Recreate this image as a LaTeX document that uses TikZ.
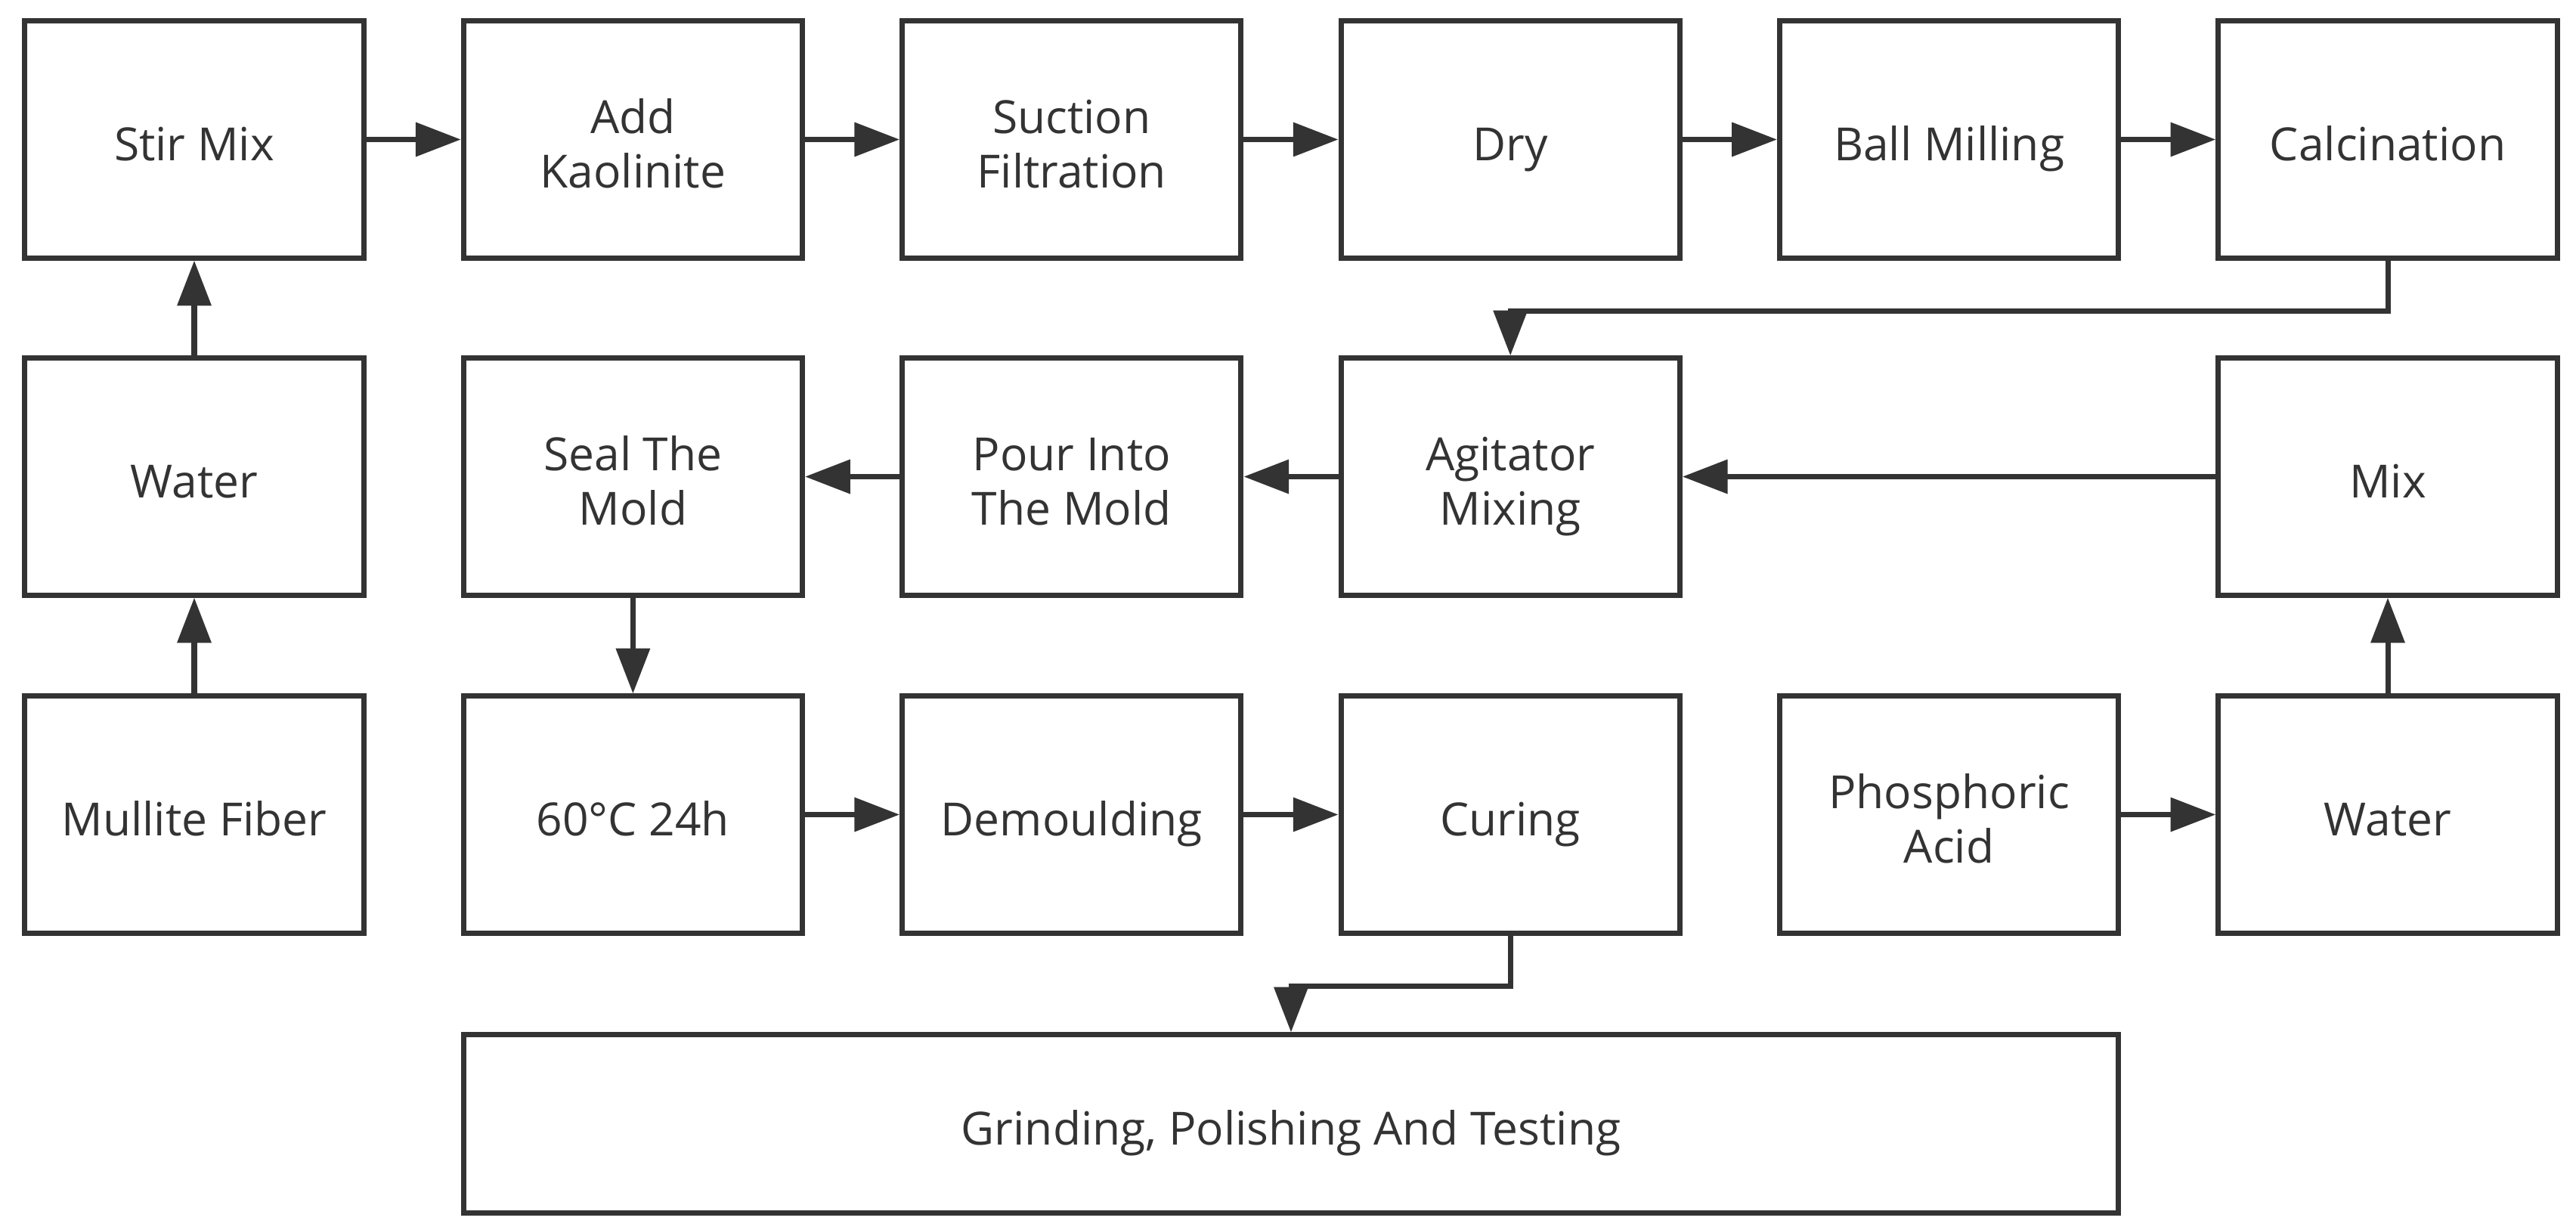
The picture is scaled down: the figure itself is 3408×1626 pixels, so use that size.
\documentclass[tikz,border=0pt]{standalone}
\usepackage{fontspec}
\usepackage{array}
\setmainfont{Open Sans}
\usetikzlibrary{arrows.meta}
\definecolor{ink}{HTML}{333333}
\newsavebox\cellbox
\newcommand\lstrut{\rule[-2.4pt]{0pt}{20.5pt}}
\newcommand\lbl[1]{{\renewcommand\arraystretch{0}\begin{tabular}{@{}>{\lstrut\begin{lrbox}{\cellbox}}c<{\end{lrbox}\smash{\usebox\cellbox}}@{}}#1\end{tabular}}}
\begin{document}
\begin{tikzpicture}[x=0.01cm,y=-0.01cm,
  box/.style={draw=ink,line width=2pt,minimum width=4.48cm,minimum height=3.13cm,
    inner sep=0pt,text=ink,
    font=\fontsize{17.2}{20.5}\selectfont},
  arr/.style={draw=ink,line width=2pt,-{Triangle[length=17pt,width=12.5pt]}}]
\useasboundingbox[fill=white] (0,0) rectangle (3408,1626);
% row 1
\node[box] (stir) at (257,184.5) {\lbl{Stir Mix}};
\node[box] (kaol) at (837.4,184.5) {\lbl{Add\\Kaolinite}};
\node[box] (suct) at (1417.8,184.5) {\lbl{Suction\\Filtration}};
\node[box] (dry)  at (1998.2,184.5) {\lbl{Dry}};
\node[box] (ball) at (2578.6,184.5) {\lbl{Ball Milling}};
\node[box] (calc) at (3159,184.5) {\lbl{Calcination}};
% row 2
\node[box] (wat1) at (257,630.5) {\lbl{Water}};
\node[box] (seal) at (837.4,630.5) {\lbl{Seal The\\Mold}};
\node[box] (pour) at (1417.8,630.5) {\lbl{Pour Into\\The Mold}};
\node[box] (agit) at (1998.2,630.5) {\lbl{Agitator\\Mixing}};
\node[box] (mix)  at (3159,630.5) {\lbl{Mix}};
% row 3
\node[box] (mull) at (257,1077.5) {\lbl{Mullite Fiber}};
\node[box] (heat) at (837.4,1077.5) {\lbl{60°C 24h}};
\node[box] (demo) at (1417.8,1077.5) {\lbl{Demoulding}};
\node[box] (cure) at (1998.2,1077.5) {\lbl{Curing}};
\node[box] (phos) at (2578.6,1077.5) {\lbl{Phosphoric\\Acid}};
\node[box] (wat2) at (3159,1077.5) {\lbl{Water}};
% bottom
\node[box,minimum width=21.87cm,minimum height=2.35cm] (grind) at (1708,1486.5) {\lbl{Grinding, Polishing And Testing}};
% connectors
\draw[arr] (mull) -- (wat1);
\draw[arr] (wat1) -- (stir);
\draw[arr] (stir) -- (kaol);
\draw[arr] (kaol) -- (suct);
\draw[arr] (suct) -- (dry);
\draw[arr] (dry) -- (ball);
\draw[arr] (ball) -- (calc);
\draw[arr] (calc.south) -- ++(0,67) -| (agit.north);
\draw[arr] (mix) -- (agit);
\draw[arr] (agit) -- (pour);
\draw[arr] (pour) -- (seal);
\draw[arr] (seal) -- (heat);
\draw[arr] (heat) -- (demo);
\draw[arr] (demo) -- (cure);
\draw[arr] (cure.south) -- ++(0,67) -| (grind.north);
\draw[arr] (phos) -- (wat2);
\draw[arr] (wat2) -- (mix);
\end{tikzpicture}
\end{document}
